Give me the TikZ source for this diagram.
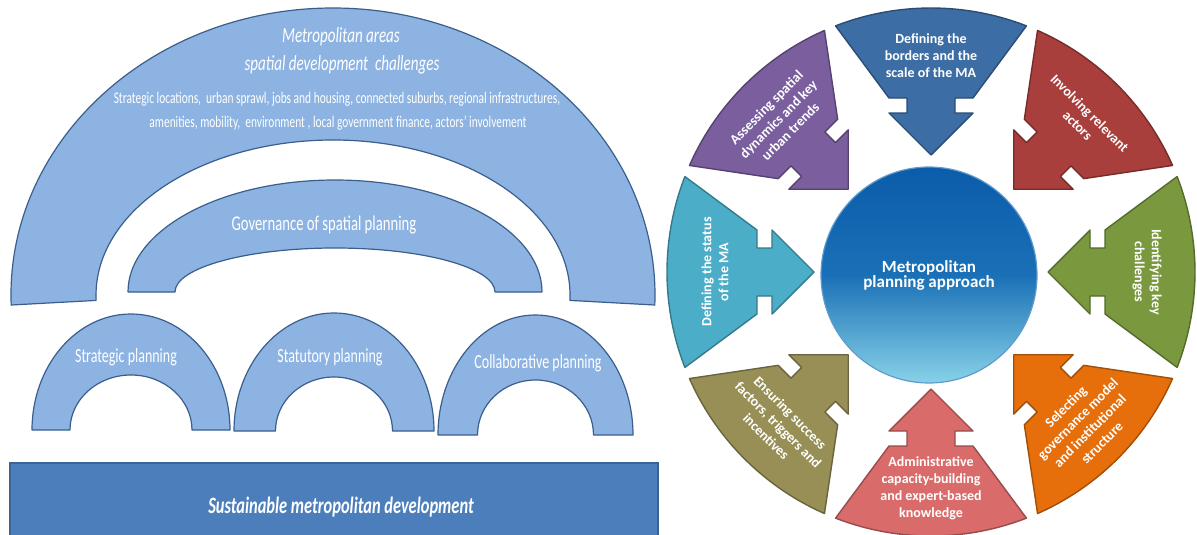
\documentclass[tikz,border=0pt]{standalone}
\usepackage{fontspec}
\setmainfont{Carlito}
\newfontfamily\narrowfont[FakeStretch=0.7]{Carlito}
\usetikzlibrary{calc}
\definecolor{archfill}{HTML}{8DB3E2}
\definecolor{archline}{HTML}{3B5E8C}
\definecolor{barfill}{HTML}{4C7EBB}
\definecolor{barline}{HTML}{3A6496}
\definecolor{segblue}{HTML}{3D6DA5}
\definecolor{segred}{HTML}{A83F3C}
\definecolor{seggreen}{HTML}{7A983D}
\definecolor{segorange}{HTML}{E66F0C}
\definecolor{segpink}{HTML}{D96B6B}
\definecolor{segolive}{HTML}{978F56}
\definecolor{segcyan}{HTML}{4BADC7}
\definecolor{segpurple}{HTML}{7A5E9E}
\definecolor{hubtop}{HTML}{0B5CAA}
\definecolor{hubmid}{HTML}{1A70B6}
\definecolor{hubbot}{HTML}{88D2E8}
% arco de bloque: cx, cy, rx ext, ry ext, rx int, ry int, angulo extra
\newcommand{\blockarc}[7]{%
  \draw[arch] ({#1-#3*cos(#7)},{#2-#4*sin(#7)})
    arc[start angle=180+#7, end angle=-#7, x radius=#3, y radius=#4]
    -- ({#1+#5*cos(#7)},{#2-#6*sin(#7)})
    arc[start angle=-#7, end angle=180+#7, x radius=#5, y radius=#6] -- cycle;}
\begin{document}
\begin{tikzpicture}[x=1pt,y=1pt,
    arch/.style={fill=archfill, draw=archline, line width=1.2pt, line join=round},
    archtxt/.style={text=white, inner sep=0pt, font=\narrowfont\fontsize{20}{24}\selectfont},
    seg/.style={line width=1.4pt, line join=round},
    segtxt/.style={text=white, inner sep=0pt, align=center, font=\bfseries\fontsize{14}{17}\selectfont}]
    \useasboundingbox (0,0) rectangle (1197,-535);
    % Arcos
    \blockarc{333}{-295}{322}{287}{237}{155}{2}
    \blockarc{335}{-292}{207}{112}{160}{44}{0}
    \blockarc{131}{-430}{99}{116}{61}{55}{0}
    \blockarc{334}{-431}{100}{118}{58.5}{54}{0}
    \blockarc{535.5}{-435}{97.5}{120}{58}{55}{0}
    % Textos de los arcos
    \node[archtxt, font=\narrowfont\itshape\fontsize{21.5}{24}\selectfont] (metro) at (341,-37) {Metropolitan areas};
    \node[archtxt, font=\narrowfont\itshape\fontsize{21.5}{24}\selectfont] (challenges) at (342,-65) {spatial development\ \ challenges};
    \node[archtxt, font=\narrowfont\fontsize{16.3}{18}\selectfont] (topics1) at (337,-99) {Strategic locations,\ \ urban sprawl, jobs and housing, connected suburbs, regional infrastructures,};
    \node[archtxt, font=\narrowfont\fontsize{16.3}{18}\selectfont] (topics2) at (338,-123) {amenities, mobility,\ \ environment , local government finance, actors’ involvement};
    \node[archtxt, font=\narrowfont\fontsize{21}{24}\selectfont] (governance) at (324,-225) {Governance of spatial planning};
    \node[archtxt] (strategic) at (126,-357) {Strategic planning};
    \node[archtxt] (statutory) at (330,-357) {Statutory planning};
    \node[archtxt] (collab) at (538,-363) {Collaborative planning};
    % Base
    \draw[fill=barfill, draw=barline, line width=1.2pt] (10,-463) rectangle (658,-545);
    \node[archtxt, font=\narrowfont\bfseries\itshape\fontsize{23.5}{26}\selectfont] (sustainable) at (341,-507) {Sustainable metropolitan development};
    % Rueda
    \coordinate (wheel) at (931,-272);
    \foreach \a/\t/\c/\txt [count=\i] in {
        90/0/segblue/{Defining the\\borders and the\\scale of the MA},
        45/-45/segred/{Involving relevant\\actors},
        0/-90/seggreen/{Identifying key\\challenges},
        -45/45/segorange/{Selecting\\governance model\\and institutional\\structure},
        -90/0/segpink/{Administrative\\capacity-building\\and expert-based\\knowledge},
        -135/-45/segolive/{Ensuring success\\factors, triggers and\\incentives},
        180/90/segcyan/{Defining the status\\of the MA},
        135/45/segpurple/{Assessing spatial\\dynamics and key\\urban trends}}
    {
        \draw[seg, fill=\c, draw=\c!70!black, shift={(wheel)}, rotate=\a-90]
            (68.8:264) arc[start angle=68.8, end angle=111.2, radius=264]
            -- (-42,174) -- (-24,174) -- (-24,159) -- (-42,159) -- (0,117)
            -- (42,159) -- (24,159) -- (24,174) -- (42,174) -- cycle;
        \node[segtxt, rotate=\t] (seg\i) at ($(wheel)+(\a:216)$) {\txt};
    }
    % Centro
    \node[circle, minimum size=216pt, top color=hubtop, bottom color=hubbot, middle color=hubmid,
        draw=hubmid!70!white, line width=1.2pt, text=white, align=center,
        font=\bfseries\fontsize{17}{15}\selectfont] (hub) at (929,-275) {Metropolitan\\planning approach};
\end{tikzpicture}
\end{document}
